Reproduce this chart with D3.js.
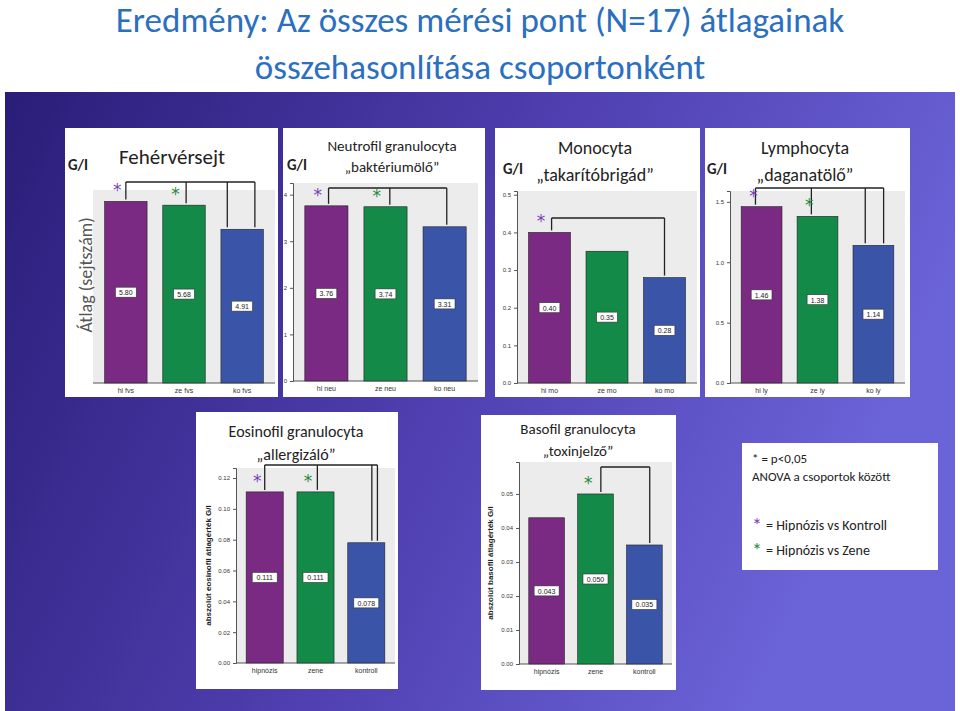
<!DOCTYPE html>
<html lang="hu">
<head>
<meta charset="utf-8">
<script src="https://cdn.jsdelivr.net/npm/d3@7"></script>
<style>
  body { margin: 0; background: #fff; }
  svg { font-family: Calibri, Carlito, "Open Sans", sans-serif; }
  .tick text { font-size: 6px; fill: #333; font-family: Arial, sans-serif; }
  .xlab { font-size: 7px; fill: #333; font-family: Arial, sans-serif; }
  .vlab { font-size: 7px; fill: #222; font-family: Arial, sans-serif; }
</style>
</head>
<body>
<script>
var w = 960, h = 711;

// data
var fvsCats = ["hi fvs", "ze fvs", "ko fvs"];
var fvsVals = [5.80, 5.68, 4.91];
var neuCats = ["hi neu", "ze neu", "ko neu"];
var neuVals = [3.76, 3.74, 3.31];
var neuTicks = [0, 1, 2, 3, 4];
var moCats = ["hi mo", "ze mo", "ko mo"];
var moVals = [0.40, 0.35, 0.28];
var moTicks = [0, 0.1, 0.2, 0.3, 0.4, 0.5];
var lyCats = ["hi ly", "ze ly", "ko ly"];
var lyVals = [1.46, 1.38, 1.14];
var lyTicks = [0, 0.5, 1.0, 1.5];
var eoCats = ["hipnózis", "zene", "kontroll"];
var eoVals = [0.111, 0.111, 0.078];
var eoTicks = [0, 0.02, 0.04, 0.06, 0.08, 0.10, 0.12];
var baCats = ["hipnózis", "zene", "kontroll"];
var baVals = [0.043, 0.050, 0.035];
var baTicks = [0, 0.01, 0.02, 0.03, 0.04, 0.05];

var barColors = ["#7a2a82", "#138a48", "#3a55a8"];
var starColors = ["#7b3fb5", "#1f8a3a"];

var svg = d3.select("body").append("svg").attr("width", w).attr("height", h);

var defs = svg.append("defs");
var grad = defs.append("linearGradient").attr("id", "bg").attr("x1", 0).attr("x2", 1).attr("y1", 0).attr("y2", 0.3);
grad.append("stop").attr("offset", "0%").attr("stop-color", "#2a1d78");
grad.append("stop").attr("offset", "55%").attr("stop-color", "#4f3fb0");
grad.append("stop").attr("offset", "100%").attr("stop-color", "#6b63d8");

svg.append("rect").attr("x", 5).attr("y", 92).attr("width", 950).attr("height", 619).attr("fill", "url(#bg)");

// title
svg.append("text").attr("x", 480).attr("y", 32).attr("text-anchor", "middle")
  .attr("font-size", 35).attr("fill", "#2a6fc0")
  .text("Eredmény: Az összes mérési pont (N=17) átlagainak");
svg.append("text").attr("x", 480).attr("y", 79).attr("text-anchor", "middle")
  .attr("font-size", 35).attr("fill", "#2a6fc0")
  .text("összehasonlítása csoportonként");

function panel(cfg) {
  var g = svg.append("g");
  var b = cfg.box;
  g.append("rect").attr("x", b[0]).attr("y", b[1]).attr("width", b[2]).attr("height", b[3]).attr("fill", "#fff");

  var x = d3.scaleBand().domain(cfg.cats).range(cfg.xr).paddingInner(0.27).paddingOuter(0.2);
  var y = d3.scaleLinear().domain([0, cfg.ymax]).range([cfg.yb, cfg.yt]);

  g.append("rect").attr("x", cfg.xr[0]).attr("y", cfg.yt).attr("width", cfg.xr[1] - cfg.xr[0])
    .attr("height", cfg.yb - cfg.yt).attr("fill", "#ececec");

  if (cfg.ticks) {
    g.append("g").attr("transform", "translate(" + cfg.xr[0] + ",0)")
      .call(d3.axisLeft(y).tickValues(cfg.ticks).tickSize(3).tickFormat(d3.format(cfg.fmt)))
      .call(function(s) { s.select(".domain").attr("stroke", "#555"); s.selectAll(".tick line").attr("stroke", "#555"); });
  }
  g.append("line").attr("x1", cfg.xr[0]).attr("x2", cfg.xr[1]).attr("y1", cfg.yb).attr("y2", cfg.yb).attr("stroke", "#555");

  g.selectAll("rect.bar").data(cfg.vals).enter().append("rect").attr("class", "bar")
    .attr("x", function(d, i) { return x(cfg.cats[i]); })
    .attr("y", function(d) { return y(d); })
    .attr("width", x.bandwidth())
    .attr("height", function(d) { return cfg.yb - y(d); })
    .attr("fill", function(d, i) { return barColors[i]; })
    .attr("stroke", "#222").attr("stroke-width", 0.6);

  g.selectAll("text.xlab").data(cfg.cats).enter().append("text").attr("class", "xlab")
    .attr("x", function(d) { return x(d) + x.bandwidth() / 2; })
    .attr("y", cfg.yb + 10).attr("text-anchor", "middle").text(function(d) { return d; });

  var vf = d3.format(cfg.vfmt);
  cfg.vals.forEach(function(v, i) {
    var cx = x(cfg.cats[i]) + x.bandwidth() / 2, cy = y(v / 2);
    var t = vf(v);
    var tw = t.length * 4.2 + 4;
    g.append("rect").attr("x", cx - tw / 2).attr("y", cy - 5).attr("width", tw).attr("height", 10)
      .attr("fill", "#fff").attr("stroke", "#333").attr("stroke-width", 0.6);
    g.append("text").attr("class", "vlab").attr("x", cx).attr("y", cy + 3).attr("text-anchor", "middle").text(t);
  });

  // header
  if (cfg.head) {
    g.append("rect").attr("x", b[0]).attr("y", b[1]).attr("width", b[2]).attr("height", cfg.head).attr("fill", "#fff");
  }
  cfg.title.forEach(function(t, i) {
    g.append("text").attr("x", cfg.tx).attr("y", cfg.ty[i]).attr("text-anchor", "middle")
      .attr("font-size", cfg.ts).attr("fill", "#222").text(t);
  });
  if (cfg.gi) {
    g.append("text").attr("x", cfg.gi[0]).attr("y", cfg.gi[1]).attr("font-size", 15)
      .attr("font-weight", "bold").attr("fill", "#222").text("G/I");
  }
  if (cfg.ylab) {
    g.append("text").attr("transform", "translate(" + cfg.ylab[0] + "," + ((cfg.yt + cfg.yb) / 2) + ") rotate(-90)")
      .attr("text-anchor", "middle").attr("font-size", 8).attr("font-weight", "bold")
      .attr("font-family", "Arial, sans-serif").attr("fill", "#222").text(cfg.ylab[1]);
  }

  // significance brackets
  var drops = cfg.drops.map(function(dd) {
    return { x: x(cfg.cats[dd[0]]) + x.bandwidth() * dd[1], y: y(cfg.vals[dd[0]]) - 2 };
  });
  g.append("line").attr("x1", drops[0].x).attr("x2", drops[drops.length - 1].x)
    .attr("y1", cfg.by).attr("y2", cfg.by).attr("stroke", "#222").attr("stroke-width", 1.3);
  drops.forEach(function(d) {
    g.append("line").attr("x1", d.x).attr("x2", d.x).attr("y1", cfg.by).attr("y2", d.y)
      .attr("stroke", "#222").attr("stroke-width", 1.3);
  });
  cfg.stars.forEach(function(s) {
    var sx = x(cfg.cats[s]) + x.bandwidth() * 0.3;
    g.append("text").attr("x", sx).attr("y", y(cfg.vals[s]) - 5).attr("text-anchor", "middle")
      .attr("font-size", 17).attr("font-family", "DejaVu Sans, sans-serif").attr("fill", starColors[s]).text("*");
  });
}

panel({ box: [65, 128, 213, 269], head: 62, cats: fvsCats, vals: fvsVals, xr: [93, 275], yt: 182, yb: 383, ymax: 6.42,
  ticks: null, vfmt: ".2f", title: ["Fehérvérsejt"], tx: 172, ty: [164], ts: 21, gi: [68, 170],
  drops: [[0, 0.5], [1, 0.55], [2, 0.15], [2, 0.8]], by: 182, stars: [0, 1] });

panel({ box: [283, 128, 202, 269], head: 55, cats: neuCats, vals: neuVals, xr: [293, 478], yt: 183, yb: 381, ymax: 4.25,
  ticks: neuTicks, fmt: "d", vfmt: ".2f", title: ["Neutrofil granulocyta", "„baktériumölő”"], tx: 392, ty: [151, 172], ts: 15, gi: [287, 170],
  drops: [[0, 0.55], [1, 0.6], [2, 0.55]], by: 188, stars: [0, 1] });

panel({ box: [495, 128, 205, 269], head: 63, cats: moCats, vals: moVals, xr: [517, 697], yt: 191, yb: 383, ymax: 0.51,
  ticks: moTicks, fmt: ".1f", vfmt: ".2f", title: ["Monocyta", "„takarítóbrigád”"], tx: 595, ty: [154, 181], ts: 18, gi: [503, 174],
  drops: [[0, 0.55], [2, 0.5]], by: 218, stars: [0] });

panel({ box: [705, 128, 205, 269], head: 63, cats: lyCats, vals: lyVals, xr: [730, 905], yt: 191, yb: 383, ymax: 1.59,
  ticks: lyTicks, fmt: ".1f", vfmt: ".2f", title: ["Lymphocyta", "„daganatölő”"], tx: 805, ty: [154, 181], ts: 18, gi: [707, 174],
  drops: [[0, 0.35], [1, 0.35], [2, 0.3], [2, 0.75]], by: 188, stars: [0, 1] });

panel({ box: [196, 412, 202, 277], head: 0, cats: eoCats, vals: eoVals, xr: [236, 395], yt: 468, yb: 663, ymax: 0.1265,
  ticks: eoTicks, fmt: ".2f", vfmt: ".3f", title: ["Eosinofil granulocyta", "„allergizáló”"], tx: 296, ty: [437, 460], ts: 16,
  ylab: [211, "abszolút eosinofil átlagérték G/l"],
  drops: [[0, 0.5], [1, 0.55], [2, 0.65], [2, 0.8]], by: 465, stars: [0, 1] });

panel({ box: [481, 415, 195, 275], head: 0, cats: baCats, vals: baVals, xr: [519, 672], yt: 462, yb: 664, ymax: 0.0594,
  ticks: baTicks, fmt: ".2f", vfmt: ".3f", title: ["Basofil granulocyta", "„toxinjelző”"], tx: 578, ty: [434, 456], ts: 15,
  ylab: [493, "abszolút basofil átlagérték G/l"],
  drops: [[1, 0.65], [2, 0.65]], by: 467, stars: [1] });

// y title of top row
svg.append("text").attr("transform", "translate(92,275) rotate(-90)").attr("text-anchor", "middle")
  .attr("font-size", 18).attr("fill", "#555").text("Átlag (sejtszám)");

// legend
var lg = svg.append("g");
lg.append("rect").attr("x", 742).attr("y", 443).attr("width", 196).attr("height", 127).attr("fill", "#fff");
lg.append("text").attr("x", 752).attr("y", 463).attr("font-size", 13).attr("fill", "#222").text("* = p<0,05");
lg.append("text").attr("x", 752).attr("y", 481).attr("font-size", 13).attr("fill", "#222").text("ANOVA  a csoportok között");
lg.append("text").attr("x", 752).attr("y", 532).attr("font-size", 20).attr("fill", starColors[0]).text("*");
lg.append("text").attr("x", 766).attr("y", 530).attr("font-size", 14).attr("fill", "#222").text("= Hipnózis vs Kontroll");
lg.append("text").attr("x", 752).attr("y", 557).attr("font-size", 20).attr("fill", starColors[1]).text("*");
lg.append("text").attr("x", 766).attr("y", 555).attr("font-size", 14).attr("fill", "#222").text("= Hipnózis vs Zene");
</script>
</body>
</html>
